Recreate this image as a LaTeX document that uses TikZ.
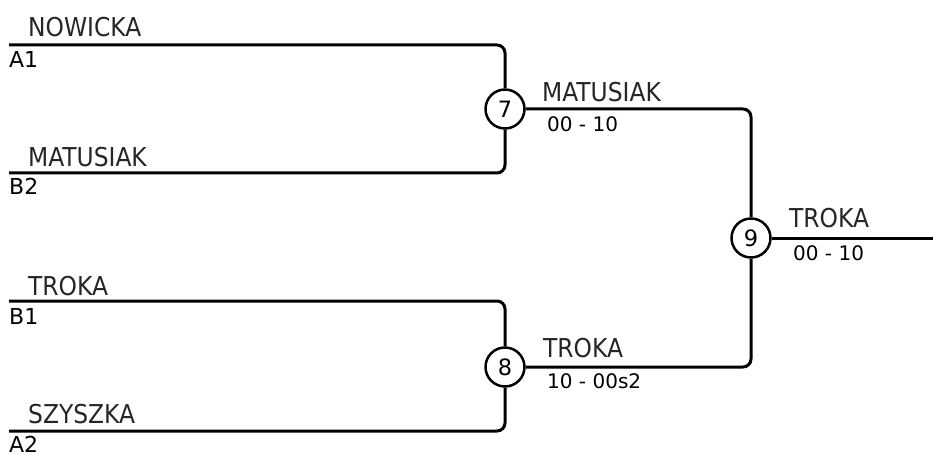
\documentclass[tikz,border=0pt]{standalone}
\usepackage{fontspec}
\setmainfont{DejaVu Sans}
\newfontfamily\namefont{DejaVu Sans Condensed}
\begin{document}
\begin{tikzpicture}[x=1pt,y=-1pt,
  wire/.style={line width=3pt,rounded corners=8pt},
  circ/.style={circle,draw,line width=2.5pt,minimum size=39pt,inner sep=0pt,fill=white,font=\fontsize{22.5}{22.5}\selectfont},
  pname/.style={anchor=base west,inner sep=0pt,text=black!85,font=\namefont\fontsize{26}{26}\selectfont},
  plabel/.style={anchor=base west,inner sep=0pt,font=\fontsize{22}{22}\selectfont},
  score/.style={anchor=base west,inner sep=0pt,font=\fontsize{20}{20}\selectfont}]
\useasboundingbox (0,0) rectangle (933,454);
% coordinates of line starts
\coordinate (l1) at (9,45);
\coordinate (l2) at (9,173);
\coordinate (l3) at (9,301);
\coordinate (l4) at (9,431);
\coordinate (fin) at (933,238);
% match circles
\node[circ] (m7) at (505,109) {7};
\node[circ] (m8) at (505,367) {8};
\node[circ] (m9) at (751,238) {9};
% wires
\draw[wire] (l1) -| (m7.north);
\draw[wire] (l2) -| (m7.south);
\draw[wire] (l3) -| (m8.north);
\draw[wire] (l4) -| (m8.south);
\draw[wire] (m7.east) -| (m9.north);
\draw[wire] (m8.east) -| (m9.south);
\draw[wire] (m9.east) -- (fin);
% player names and seeds
\node[pname] (n1) at (28,37) {NOWICKA};
\node[plabel] (s1) at (9,68) {A1};
\node[pname] (n2) at (28,167) {MATUSIAK};
\node[plabel] (s2) at (9,195) {B2};
\node[pname] (n3) at (28,295) {TROKA};
\node[plabel] (s3) at (9,324) {B1};
\node[pname] (n4) at (28,423) {SZYSZKA};
\node[plabel] (s4) at (9,452) {A2};
% winners and scores
\node[pname] (w7) at (542,102) {MATUSIAK};
\node[score] (r7) at (547,132) {00 - 10};
\node[pname] (w8) at (543,357) {TROKA};
\node[score] (r8) at (547,388) {10 - 00s2};
\node[pname] (w9) at (789,227) {TROKA};
\node[score] (r9) at (793,260) {00 - 10};
\end{tikzpicture}
\end{document}
